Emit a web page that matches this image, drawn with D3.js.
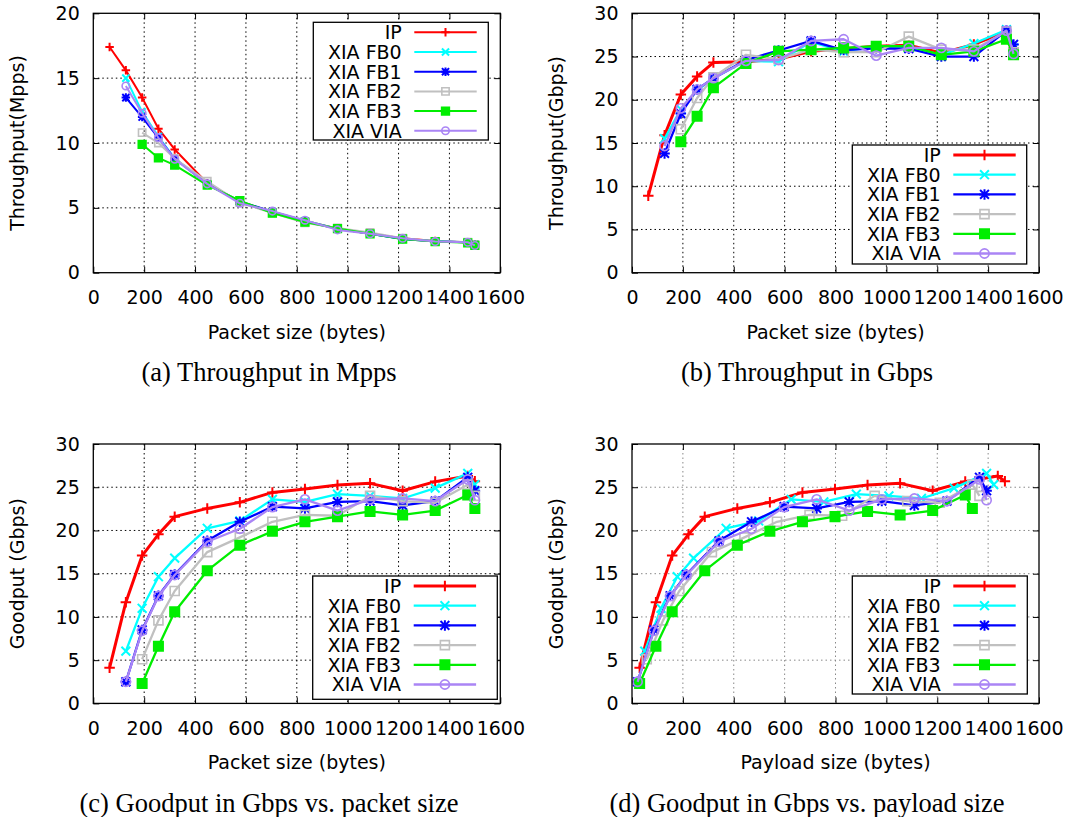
<!DOCTYPE html>
<html>
<head>
<meta charset="utf-8">
<script src="https://cdn.jsdelivr.net/npm/d3@7"></script>
<style>
  html, body { margin: 0; padding: 0; background: #fff; }
  svg { display: block; }
</style>
</head>
<body>
<svg id="fig" width="1072" height="817"></svg>
<script>
// ---- series definitions ----
const SERIES_NAMES   = ["IP", "XIA FB0", "XIA FB1", "XIA FB2", "XIA FB3", "XIA VIA"];
const SERIES_COLORS  = ["#ff0000", "#00ffff", "#0000ff", "#c0c0c0", "#00ee00", "#aa85f5"];
const SERIES_MARKERS = ["plus", "cross", "star", "square", "squareFilled", "circle"];

// ---- axis ticks ----
const X_TICKS      = [0, 200, 400, 600, 800, 1000, 1200, 1400, 1600];
const Y_TICKS_MPPS = [0, 5, 10, 15, 20];
const Y_TICKS_GBPS = [0, 5, 10, 15, 20, 25, 30];

// ---- packet sizes (bytes) ----
const PKT_IP  = [64, 128, 192, 256, 320, 448, 576, 704, 832, 960, 1088, 1216, 1344, 1472, 1500];
const PKT_FB0 = [128, 192, 256, 320, 448, 576, 704, 832, 960, 1088, 1216, 1344, 1472, 1500];
const PKT_FB1 = [128, 192, 256, 320, 448, 576, 704, 832, 960, 1088, 1216, 1344, 1472, 1500];
const PKT_FB2 = [192, 256, 320, 448, 576, 704, 832, 960, 1088, 1216, 1344, 1472, 1500];
const PKT_FB3 = [192, 256, 320, 448, 576, 704, 832, 960, 1088, 1216, 1344, 1472, 1500];
const PKT_VIA = [128, 192, 256, 320, 448, 576, 704, 832, 960, 1088, 1216, 1344, 1472, 1500];

// ---- payload sizes (bytes) ----
const PAY_IP  = [30, 94, 158, 222, 286, 414, 542, 670, 798, 926, 1054, 1182, 1310, 1438, 1466];
const PAY_FB0 = [50, 114, 178, 242, 370, 498, 626, 754, 882, 1010, 1138, 1266, 1394, 1422];
const PAY_FB1 = [22, 86, 150, 214, 342, 470, 598, 726, 854, 982, 1110, 1238, 1366, 1394];
const PAY_FB2 = [58, 122, 186, 314, 442, 570, 698, 826, 954, 1082, 1210, 1338, 1366];
const PAY_FB3 = [30, 94, 158, 286, 414, 542, 670, 798, 926, 1054, 1182, 1310, 1338];
const PAY_VIA = [22, 86, 150, 214, 342, 470, 598, 726, 854, 982, 1110, 1238, 1366, 1394];

// ---- throughput (Mpps) ----
const MPPS_IP  = [17.4, 15.6, 13.5, 11.1, 9.5, 6.9, 5.45, 4.7, 4.0, 3.4, 3.0, 2.65, 2.45, 2.35, 2.2];
const MPPS_FB0 = [15.0, 12.4, 10.5, 8.8, 6.85, 5.45, 4.7, 4.0, 3.4, 3.0, 2.6, 2.45, 2.35, 2.2];
const MPPS_FB1 = [13.5, 12.0, 10.4, 8.8, 6.85, 5.5, 4.7, 3.95, 3.4, 3.0, 2.6, 2.4, 2.35, 2.2];
const MPPS_FB2 = [10.8, 10.0, 8.8, 7.05, 5.4, 4.6, 3.85, 3.45, 3.1, 2.65, 2.4, 2.35, 2.15];
const MPPS_FB3 = [9.9, 8.85, 8.3, 6.75, 5.55, 4.6, 3.9, 3.4, 3.0, 2.6, 2.4, 2.3, 2.1];
const MPPS_VIA = [14.4, 12.3, 10.4, 8.75, 6.85, 5.35, 4.75, 4.05, 3.3, 3.0, 2.65, 2.4, 2.35, 2.1];

// ---- throughput (Gbps) ----
const GBPS_IP  = [8.9, 15.9, 20.6, 22.7, 24.3, 24.4, 24.7, 25.6, 25.9, 26.2, 26.3, 25.4, 26.4, 27.9, 26.0];
const GBPS_FB0 = [15.5, 18.9, 21.1, 22.5, 24.5, 24.4, 26.7, 25.6, 26.2, 26.1, 25.2, 26.5, 28.1, 26.0];
const GBPS_FB1 = [13.8, 18.4, 21.2, 22.5, 24.6, 25.7, 26.8, 25.75, 25.95, 25.9, 25.0, 25.0, 28.0, 26.4];
const GBPS_FB2 = [16.6, 20.2, 22.6, 25.2, 24.7, 25.8, 25.5, 25.5, 27.3, 25.8, 25.8, 27.9, 25.5];
const GBPS_FB3 = [15.15, 18.1, 21.4, 24.2, 25.6, 25.8, 26.0, 26.2, 26.2, 25.2, 25.6, 27.0, 25.2];
const GBPS_VIA = [14.65, 19.0, 21.2, 22.5, 24.5, 24.6, 26.8, 27.0, 25.1, 26.0, 26.0, 25.6, 28.0, 25.3];

// ---- goodput (Gbps) ----
const GOOD_IP  = [4.12, 11.7, 17.1, 19.55, 21.6, 22.55, 23.25, 24.4, 24.8, 25.25, 25.45, 24.6, 25.65, 26.3, 25.7];
const GOOD_FB0 = [6.05, 11.0, 14.65, 16.8, 20.25, 21.1, 23.6, 23.3, 24.2, 24.0, 23.7, 24.9, 26.6, 25.3];
const GOOD_FB1 = [2.5, 8.5, 12.45, 14.9, 18.8, 21.0, 22.75, 22.55, 23.3, 23.4, 22.9, 23.4, 26.15, 24.6];
const GOOD_FB2 = [5.1, 9.6, 13.0, 17.5, 19.2, 21.0, 21.8, 21.7, 24.0, 23.4, 23.2, 25.3, 24.0];
const GOOD_FB3 = [2.3, 6.6, 10.6, 15.35, 18.3, 19.9, 21.0, 21.6, 22.2, 21.8, 22.3, 24.1, 22.55];
const GOOD_VIA = [2.5, 8.4, 12.4, 14.85, 18.7, 20.2, 22.7, 23.6, 22.3, 23.6, 23.7, 23.4, 25.9, 23.5];

// ---- layout ----
const FRAME_W = 407, FRAME_H = 259.4;
const TICK_FONT = "DejaVu Sans", TICK_SIZE = 19, TITLE_SIZE = 19, KEY_SIZE = 19;
const CAPTION_FONT = "Liberation Serif", CAPTION_SIZE = 26.5;

const zip = (xs, ys) => xs.map((x, i) => ({ x, y: ys[i] }));

const panels = [
  {
    frame: { x: 93.3, y: 13.3 }, yMax: 20, yTicks: Y_TICKS_MPPS,
    yTitle: "Throughput(Mpps)", xTitle: "Packet size (bytes)",
    caption: "(a) Throughput in Mpps", captionX: 269,
    xs: [PKT_IP, PKT_FB0, PKT_FB1, PKT_FB2, PKT_FB3, PKT_VIA],
    ys: [MPPS_IP, MPPS_FB0, MPPS_FB1, MPPS_FB2, MPPS_FB3, MPPS_VIA],
    key: { x: 313.3, y: 22.3, w: 175, h: 117.7 },
    lineW: [2, 2, 2, 2, 2, 2], mk: 0.85, grid: "#000"
  },
  {
    frame: { x: 632, y: 13.3 }, yMax: 30, yTicks: Y_TICKS_GBPS,
    yTitle: "Throughput(Gbps)", xTitle: "Packet size (bytes)",
    caption: "(b) Throughput in Gbps", captionX: 807,
    xs: [PKT_IP, PKT_FB0, PKT_FB1, PKT_FB2, PKT_FB3, PKT_VIA],
    ys: [GBPS_IP, GBPS_FB0, GBPS_FB1, GBPS_FB2, GBPS_FB3, GBPS_VIA],
    key: { x: 852.3, y: 145, w: 174.4, h: 119 },
    lineW: [3, 2.3, 2.3, 2.3, 2.3, 2.3], mk: 1.05, grid: "#000"
  },
  {
    frame: { x: 93.3, y: 444 }, yMax: 30, yTicks: Y_TICKS_GBPS,
    yTitle: "Goodput (Gbps)", xTitle: "Packet size (bytes)",
    caption: "(c) Goodput in Gbps vs. packet size", captionX: 269,
    xs: [PKT_IP, PKT_FB0, PKT_FB1, PKT_FB2, PKT_FB3, PKT_VIA],
    ys: [GOOD_IP, GOOD_FB0, GOOD_FB1, GOOD_FB2, GOOD_FB3, GOOD_VIA],
    key: { x: 312.7, y: 576, w: 184.6, h: 123.3 },
    lineW: [3, 2.3, 2.3, 2.3, 2.3, 2.3], mk: 1.05, grid: "#000"
  },
  {
    frame: { x: 632, y: 444 }, yMax: 30, yTicks: Y_TICKS_GBPS,
    yTitle: "Goodput (Gbps)", xTitle: "Payload size (bytes)",
    caption: "(d) Goodput in Gbps vs. payload size", captionX: 807,
    xs: [PAY_IP, PAY_FB0, PAY_FB1, PAY_FB2, PAY_FB3, PAY_VIA],
    ys: [GOOD_IP, GOOD_FB0, GOOD_FB1, GOOD_FB2, GOOD_FB3, GOOD_VIA],
    key: { x: 852.3, y: 576, w: 175, h: 118 },
    lineW: [3, 2.3, 2.3, 2.3, 2.3, 2.3], mk: 1.05, grid: "#888"
  }
];

// gnuplot-style point symbols, centred on the origin
function markerPath(kind, s) {
  const r = 5.0 * s, c = 4.2 * s, q = 4.3 * s, cr = 4.4 * s;
  switch (kind) {
    case "plus":  return `M${-r},0H${r}M0,${-r}V${r}`;
    case "cross": return `M${-c},${-c}L${c},${c}M${-c},${c}L${c},${-c}`;
    case "star":  return `M${-r},0H${r}M0,${-r}V${r}M${-c},${-c}L${c},${c}M${-c},${c}L${c},${-c}`;
    case "square":
    case "squareFilled": return `M${-q},${-q}H${q}V${q}H${-q}Z`;
    case "circle": return `M${cr},0A${cr},${cr} 0 1,1 ${-cr},0A${cr},${cr} 0 1,1 ${cr},0Z`;
  }
}

function drawMarker(g, kind, color, s, x, y) {
  const filled = kind === "squareFilled";
  g.append("path")
    .attr("d", markerPath(kind, s))
    .attr("transform", `translate(${x},${y})`)
    .attr("fill", filled ? color : "none")
    .attr("stroke", color)
    .attr("stroke-width", kind === "square" || kind === "circle" ? 1.6 : 2);
}

const svg = d3.select("#fig");

panels.forEach(p => {
  const x0 = p.frame.x, y0 = p.frame.y;
  const x = d3.scaleLinear().domain([0, 1600]).range([x0, x0 + FRAME_W]);
  const y = d3.scaleLinear().domain([0, p.yMax]).range([y0 + FRAME_H, y0]);
  const g = svg.append("g");

  // dotted grid
  const grid = g.append("g").attr("stroke", p.grid).attr("stroke-width", 1)
    .attr("stroke-dasharray", "1.5,3");
  X_TICKS.slice(1, -1).forEach(t => grid.append("line")
    .attr("x1", x(t)).attr("x2", x(t)).attr("y1", y0).attr("y2", y0 + FRAME_H));
  p.yTicks.slice(1, -1).forEach(t => grid.append("line")
    .attr("x1", x0).attr("x2", x0 + FRAME_W).attr("y1", y(t)).attr("y2", y(t)));

  // axes with inward ticks, mirrored on top/right
  const styleAxis = sel => {
    sel.select(".domain").remove();
    sel.selectAll(".tick line").attr("stroke", "#000").attr("stroke-width", 1);
    sel.selectAll(".tick text").attr("font-family", TICK_FONT).attr("font-size", TICK_SIZE).attr("fill", "#000");
  };
  g.append("g").attr("transform", `translate(0,${y0 + FRAME_H})`)
    .call(d3.axisBottom(x).tickValues(X_TICKS).tickFormat(d3.format("d")).tickSizeInner(-6).tickSizeOuter(0).tickPadding(18))
    .call(styleAxis);
  g.append("g").attr("transform", `translate(0,${y0})`)
    .call(d3.axisTop(x).tickValues(X_TICKS).tickFormat("").tickSizeInner(-6).tickSizeOuter(0))
    .call(styleAxis);
  g.append("g").attr("transform", `translate(${x0},0)`)
    .call(d3.axisLeft(y).tickValues(p.yTicks).tickFormat(d3.format("d")).tickSizeInner(-6).tickSizeOuter(0).tickPadding(13.5))
    .call(styleAxis);
  g.append("g").attr("transform", `translate(${x0 + FRAME_W},0)`)
    .call(d3.axisRight(y).tickValues(p.yTicks).tickFormat("").tickSizeInner(-6).tickSizeOuter(0))
    .call(styleAxis);

  // axis titles
  g.append("text")
    .attr("transform", `translate(${x0 - 69},${y0 + FRAME_H / 2}) rotate(-90)`)
    .attr("text-anchor", "middle")
    .attr("font-family", TICK_FONT).attr("font-size", TITLE_SIZE)
    .text(p.yTitle);
  g.append("text")
    .attr("x", x0 + FRAME_W / 2).attr("y", y0 + FRAME_H + 66)
    .attr("text-anchor", "middle")
    .attr("font-family", TICK_FONT).attr("font-size", TITLE_SIZE)
    .text(p.xTitle);

  // caption
  g.append("text")
    .attr("x", p.captionX).attr("y", y0 + FRAME_H + 108.5)
    .attr("text-anchor", "middle")
    .attr("font-family", CAPTION_FONT).attr("font-size", CAPTION_SIZE)
    .text(p.caption);

  // series lines and points
  const line = d3.line().x(d => x(d.x)).y(d => y(d.y));
  SERIES_NAMES.forEach((name, i) => {
    const pts = zip(p.xs[i], p.ys[i]);
    const sg = g.append("g");
    sg.append("path").datum(pts)
      .attr("d", line)
      .attr("fill", "none")
      .attr("stroke", SERIES_COLORS[i])
      .attr("stroke-width", p.lineW[i])
      .attr("stroke-linejoin", "round");
    pts.forEach(d => drawMarker(sg, SERIES_MARKERS[i], SERIES_COLORS[i], p.mk, x(d.x), y(d.y)));
  });

  // frame
  g.append("rect")
    .attr("x", x0).attr("y", y0).attr("width", FRAME_W).attr("height", FRAME_H)
    .attr("fill", "none").attr("stroke", "#000").attr("stroke-width", 1.3);

  // key
  const k = p.key;
  const kg = g.append("g");
  kg.append("rect").attr("x", k.x).attr("y", k.y).attr("width", k.w).attr("height", k.h)
    .attr("fill", "#fff").attr("stroke", "#000").attr("stroke-width", 1.3);
  SERIES_NAMES.forEach((name, i) => {
    const ry = k.y + 10 + i * 19.7;
    kg.append("text")
      .attr("x", k.x + 88.4).attr("y", ry).attr("dy", "0.36em")
      .attr("text-anchor", "end")
      .attr("font-family", TICK_FONT).attr("font-size", KEY_SIZE)
      .text(name);
    kg.append("line")
      .attr("x1", k.x + 101).attr("x2", k.x + 163.4).attr("y1", ry).attr("y2", ry)
      .attr("stroke", SERIES_COLORS[i]).attr("stroke-width", p.lineW[i]);
    drawMarker(kg, SERIES_MARKERS[i], SERIES_COLORS[i], p.mk, k.x + 132.2, ry);
  });
});
</script>
</body>
</html>
